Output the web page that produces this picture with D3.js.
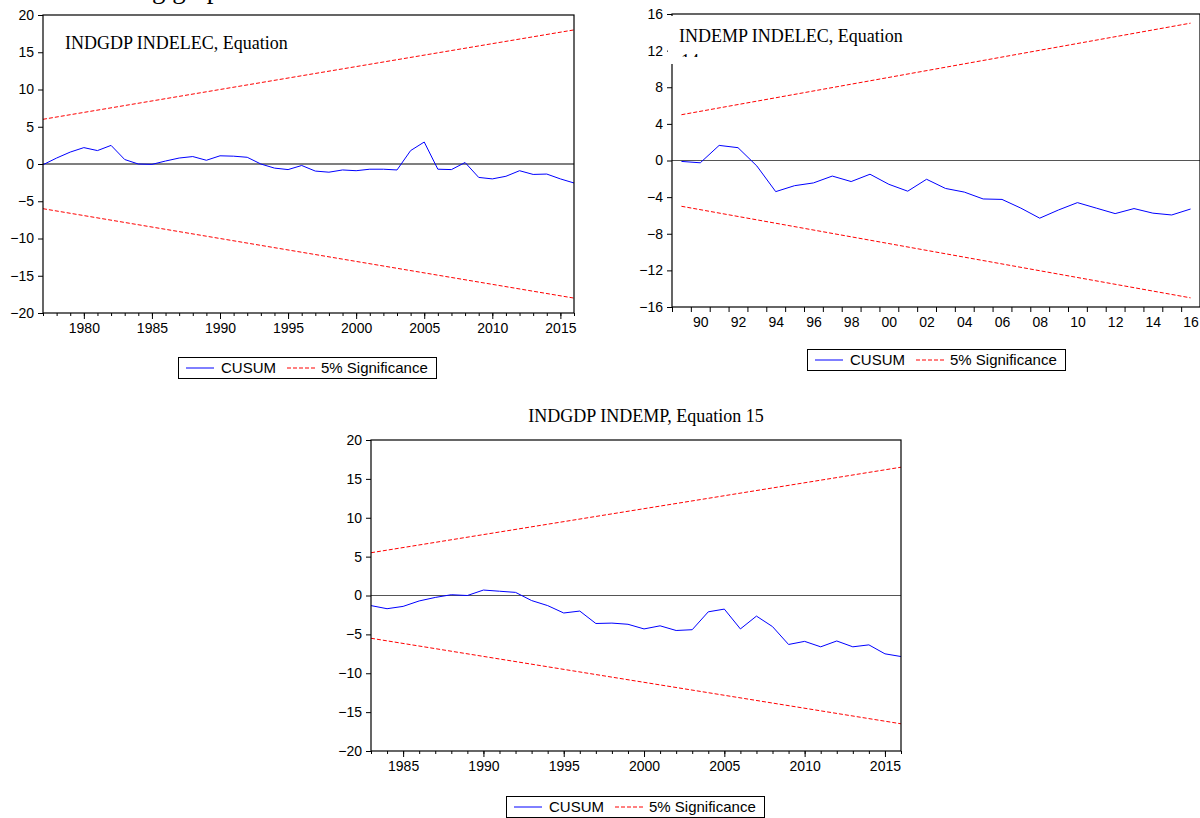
<!DOCTYPE html>
<html>
<head>
<meta charset="utf-8">
<script src="https://cdn.jsdelivr.net/npm/d3@7"></script>
<style>
	body { margin: 0; background: #fff; }
	svg { display: block; }
	.tick text { font-family: "Liberation Sans", Arial, sans-serif; font-size: 14px; fill: #000; }
	.tick line { stroke: #000; }
	.serif { font-family: "Liberation Serif", "Times New Roman", serif; fill: #000; }
	.legend text { font-family: "Liberation Sans", Arial, sans-serif; font-size: 15px; fill: #000; }
</style>
</head>
<body>
<svg id="chart" width="1200" height="818"></svg>
<script>
// panel 1 : INDGDP INDELEC (1977-2016)
const firstYear1 = 1977;
const cusum1 = [-0.1, 0.8, 1.6, 2.2, 1.8, 2.5, 0.6, 0.0, -0.05, 0.4,
	0.8, 1.0, 0.5, 1.1, 1.05, 0.9, 0.0, -0.55, -0.75, -0.2,
	-0.95, -1.1, -0.8, -0.9, -0.7, -0.7, -0.8, 1.8, 2.95, -0.7,
	-0.75, 0.2, -1.8, -2.0, -1.65, -0.9, -1.4, -1.35, -2.0, -2.55];
const bound1 = [6.0, 18.0];   // 5% line at first and last obs
const yTicks1 = [20, 15, 10, 5, 0, -5, -10, -15, -20];
const xLabels1 = [1980, 1985, 1990, 1995, 2000, 2005, 2010, 2015];

// panel 2 : INDEMP INDELEC (1989-2016)
const firstYear2 = 1989;
const cusum2 = [-0.1, -0.25, 1.65, 1.4, -0.6, -3.4, -2.75, -2.45, -1.7, -2.3,
	-1.5, -2.6, -3.35, -2.05, -3.05, -3.45, -4.2, -4.25, -5.2, -6.3,
	-5.4, -4.6, -5.2, -5.8, -5.25, -5.75, -5.95, -5.3];
const bound2 = [5.0, 15.0];
const yTicks2 = [16, 12, 8, 4, 0, -4, -8, -12, -16];
const xLabels2 = [1990, 1992, 1994, 1996, 1998, 2000, 2002, 2004, 2006, 2008, 2010, 2012, 2014, 2016];

// panel 3 : INDGDP INDEMP (1983-2016)
const firstYear3 = 1983;
const cusum3 = [-1.3, -1.7, -1.4, -0.7, -0.25, 0.1, 0.0, 0.7, 0.55, 0.4,
	-0.65, -1.3, -2.25, -2.0, -3.6, -3.55, -3.7, -4.3, -3.9, -4.5,
	-4.4, -2.1, -1.75, -4.3, -2.65, -4.0, -6.3, -5.9, -6.6, -5.85,
	-6.6, -6.35, -7.5, -7.85];
const bound3 = [5.5, 16.5];
const yTicks3 = [20, 15, 10, 5, 0, -5, -10, -15, -20];
const xLabels3 = [1985, 1990, 1995, 2000, 2005, 2010, 2015];

const svg = d3.select('#chart');

function drawPanel(o) {
	const years = o.cusum.map((v, i) => o.firstYear + i);
	const last = years[years.length - 1];
	const pad = o.centered ? 0.5 : 0;

	const x = d3.scaleLinear().domain([o.firstYear - pad, last + pad]).range([o.left, o.right]);
	const y = d3.scaleLinear().domain(o.yDomain).range([o.bottom, o.top]);
	const g = svg.append('g');

	// zero line
	g.append('line')
		.attr('x1', o.left).attr('x2', o.right)
		.attr('y1', y(0)).attr('y2', y(0))
		.attr('stroke', o.zeroColor).attr('stroke-width', 1.2);

	// 5% significance bounds
	[1, -1].forEach(function(s) {
		g.append('line')
			.attr('x1', x(o.firstYear)).attr('y1', y(s * o.bound[0]))
			.attr('x2', x(last)).attr('y2', y(s * o.bound[1]))
			.attr('stroke', '#ff0000').attr('stroke-width', 1)
			.attr('stroke-dasharray', '4,2');
	});

	// cusum
	g.append('path')
		.datum(o.cusum)
		.attr('fill', 'none')
		.attr('stroke', '#0000ff')
		.attr('stroke-width', 1)
		.attr('d', d3.line().x((d, i) => x(years[i])).y(d => y(d)));

	// frame
	g.append('rect')
		.attr('x', o.left).attr('y', o.top)
		.attr('width', o.right - o.left).attr('height', o.bottom - o.top)
		.attr('fill', 'none').attr('stroke', '#000').attr('stroke-width', 1.2);

	// y axis
	g.append('g')
		.attr('transform', 'translate(' + o.left + ',0)')
		.call(d3.axisLeft(y).tickValues(o.yTicks).tickSize(5).tickPadding(4))
		.call(a => a.select('.domain').remove());

	// x axis
	if (o.centered) {
		const bounds = years.map(v => v - 0.5).concat([last + 0.5]);
		g.append('g')
			.attr('transform', 'translate(0,' + o.bottom + ')')
			.call(d3.axisBottom(x).tickValues(bounds).tickSize(5).tickFormat(''))
			.call(a => a.select('.domain').remove());
		g.append('g')
			.attr('transform', 'translate(0,' + o.bottom + ')')
			.call(d3.axisBottom(x).tickValues(o.xLabels).tickSize(0).tickPadding(10)
				.tickFormat(d => String(d).slice(2)))
			.call(a => a.select('.domain').remove());
	} else {
		g.append('g')
			.attr('transform', 'translate(0,' + o.bottom + ')')
			.call(d3.axisBottom(x).tickValues(years).tickSize(3).tickFormat(''))
			.call(a => a.select('.domain').remove());
		g.append('g')
			.attr('transform', 'translate(0,' + o.bottom + ')')
			.call(d3.axisBottom(x).tickValues(o.xLabels).tickSize(6).tickPadding(4).tickFormat(d3.format('d')))
			.call(a => a.select('.domain').remove());
	}

	drawLegend(o.legendX, o.legendY);
	return g;
}

function drawLegend(lx, ly) {
	const g = svg.append('g').attr('class', 'legend').attr('transform', 'translate(' + lx + ',' + ly + ')');
	g.append('rect')
		.attr('x', 0.5).attr('y', 0.5).attr('width', 258).attr('height', 21)
		.attr('fill', '#fff').attr('stroke', '#000').attr('stroke-width', 1);
	g.append('line').attr('x1', 8).attr('x2', 36).attr('y1', 11).attr('y2', 11)
		.attr('stroke', '#0000ff').attr('stroke-width', 1);
	g.append('text').attr('x', 43).attr('y', 16).text('CUSUM');
	g.append('line').attr('x1', 109).attr('x2', 137).attr('y1', 11).attr('y2', 11)
		.attr('stroke', '#ff0000').attr('stroke-width', 1).attr('stroke-dasharray', '4,2');
	g.append('text').attr('x', 143).attr('y', 16).text('5% Significance');
}

// text of the page cropped at the top
const topText = svg.append('text')
	.attr('class', 'serif')
	.attr('x', 0).attr('y', -2)
	.style('font-size', '27px')
	.text('following graphs');
const gPos = topText.node().getStartPositionOfChar(8).x;
topText.attr('x', 152 - gPos);

drawPanel({
	cusum: cusum1, firstYear: firstYear1, bound: bound1, yTicks: yTicks1, xLabels: xLabels1,
	yDomain: [-20, 20], left: 43, right: 574, top: 15, bottom: 313,
	centered: false, zeroColor: '#000', legendX: 178, legendY: 357
});
svg.append('text').attr('class', 'serif').attr('x', 65).attr('y', 49)
	.style('font-size', '18px').text('INDGDP INDELEC, Equation');

drawPanel({
	cusum: cusum2, firstYear: firstYear2, bound: bound2, yTicks: yTicks2, xLabels: xLabels2,
	yDomain: [-16, 16], left: 672, right: 1200, top: 14, bottom: 307,
	centered: true, zeroColor: '#555', legendX: 807, legendY: 349
});
// title box of panel 2 hides part of its axis
svg.append('rect').attr('x', 668).attr('y', 16).attr('width', 244).attr('height', 48).attr('fill', '#fff');
svg.append('text').attr('class', 'serif').attr('x', 679).attr('y', 42)
	.style('font-size', '18px').text('INDEMP INDELEC, Equation');
svg.append('text').attr('class', 'serif').attr('x', 681).attr('y', 67)
	.style('font-size', '18px').text('14');
svg.append('rect').attr('x', 676).attr('y', 57).attr('width', 30).attr('height', 14).attr('fill', '#fff');

drawPanel({
	cusum: cusum3, firstYear: firstYear3, bound: bound3, yTicks: yTicks3, xLabels: xLabels3,
	yDomain: [-20, 20], left: 371, right: 901, top: 440, bottom: 751,
	centered: false, zeroColor: '#555', legendX: 506, legendY: 796
});
svg.append('text').attr('class', 'serif').attr('x', 646).attr('y', 422)
	.attr('text-anchor', 'middle')
	.style('font-size', '18px').text('INDGDP INDEMP, Equation 15');
</script>
</body>
</html>
